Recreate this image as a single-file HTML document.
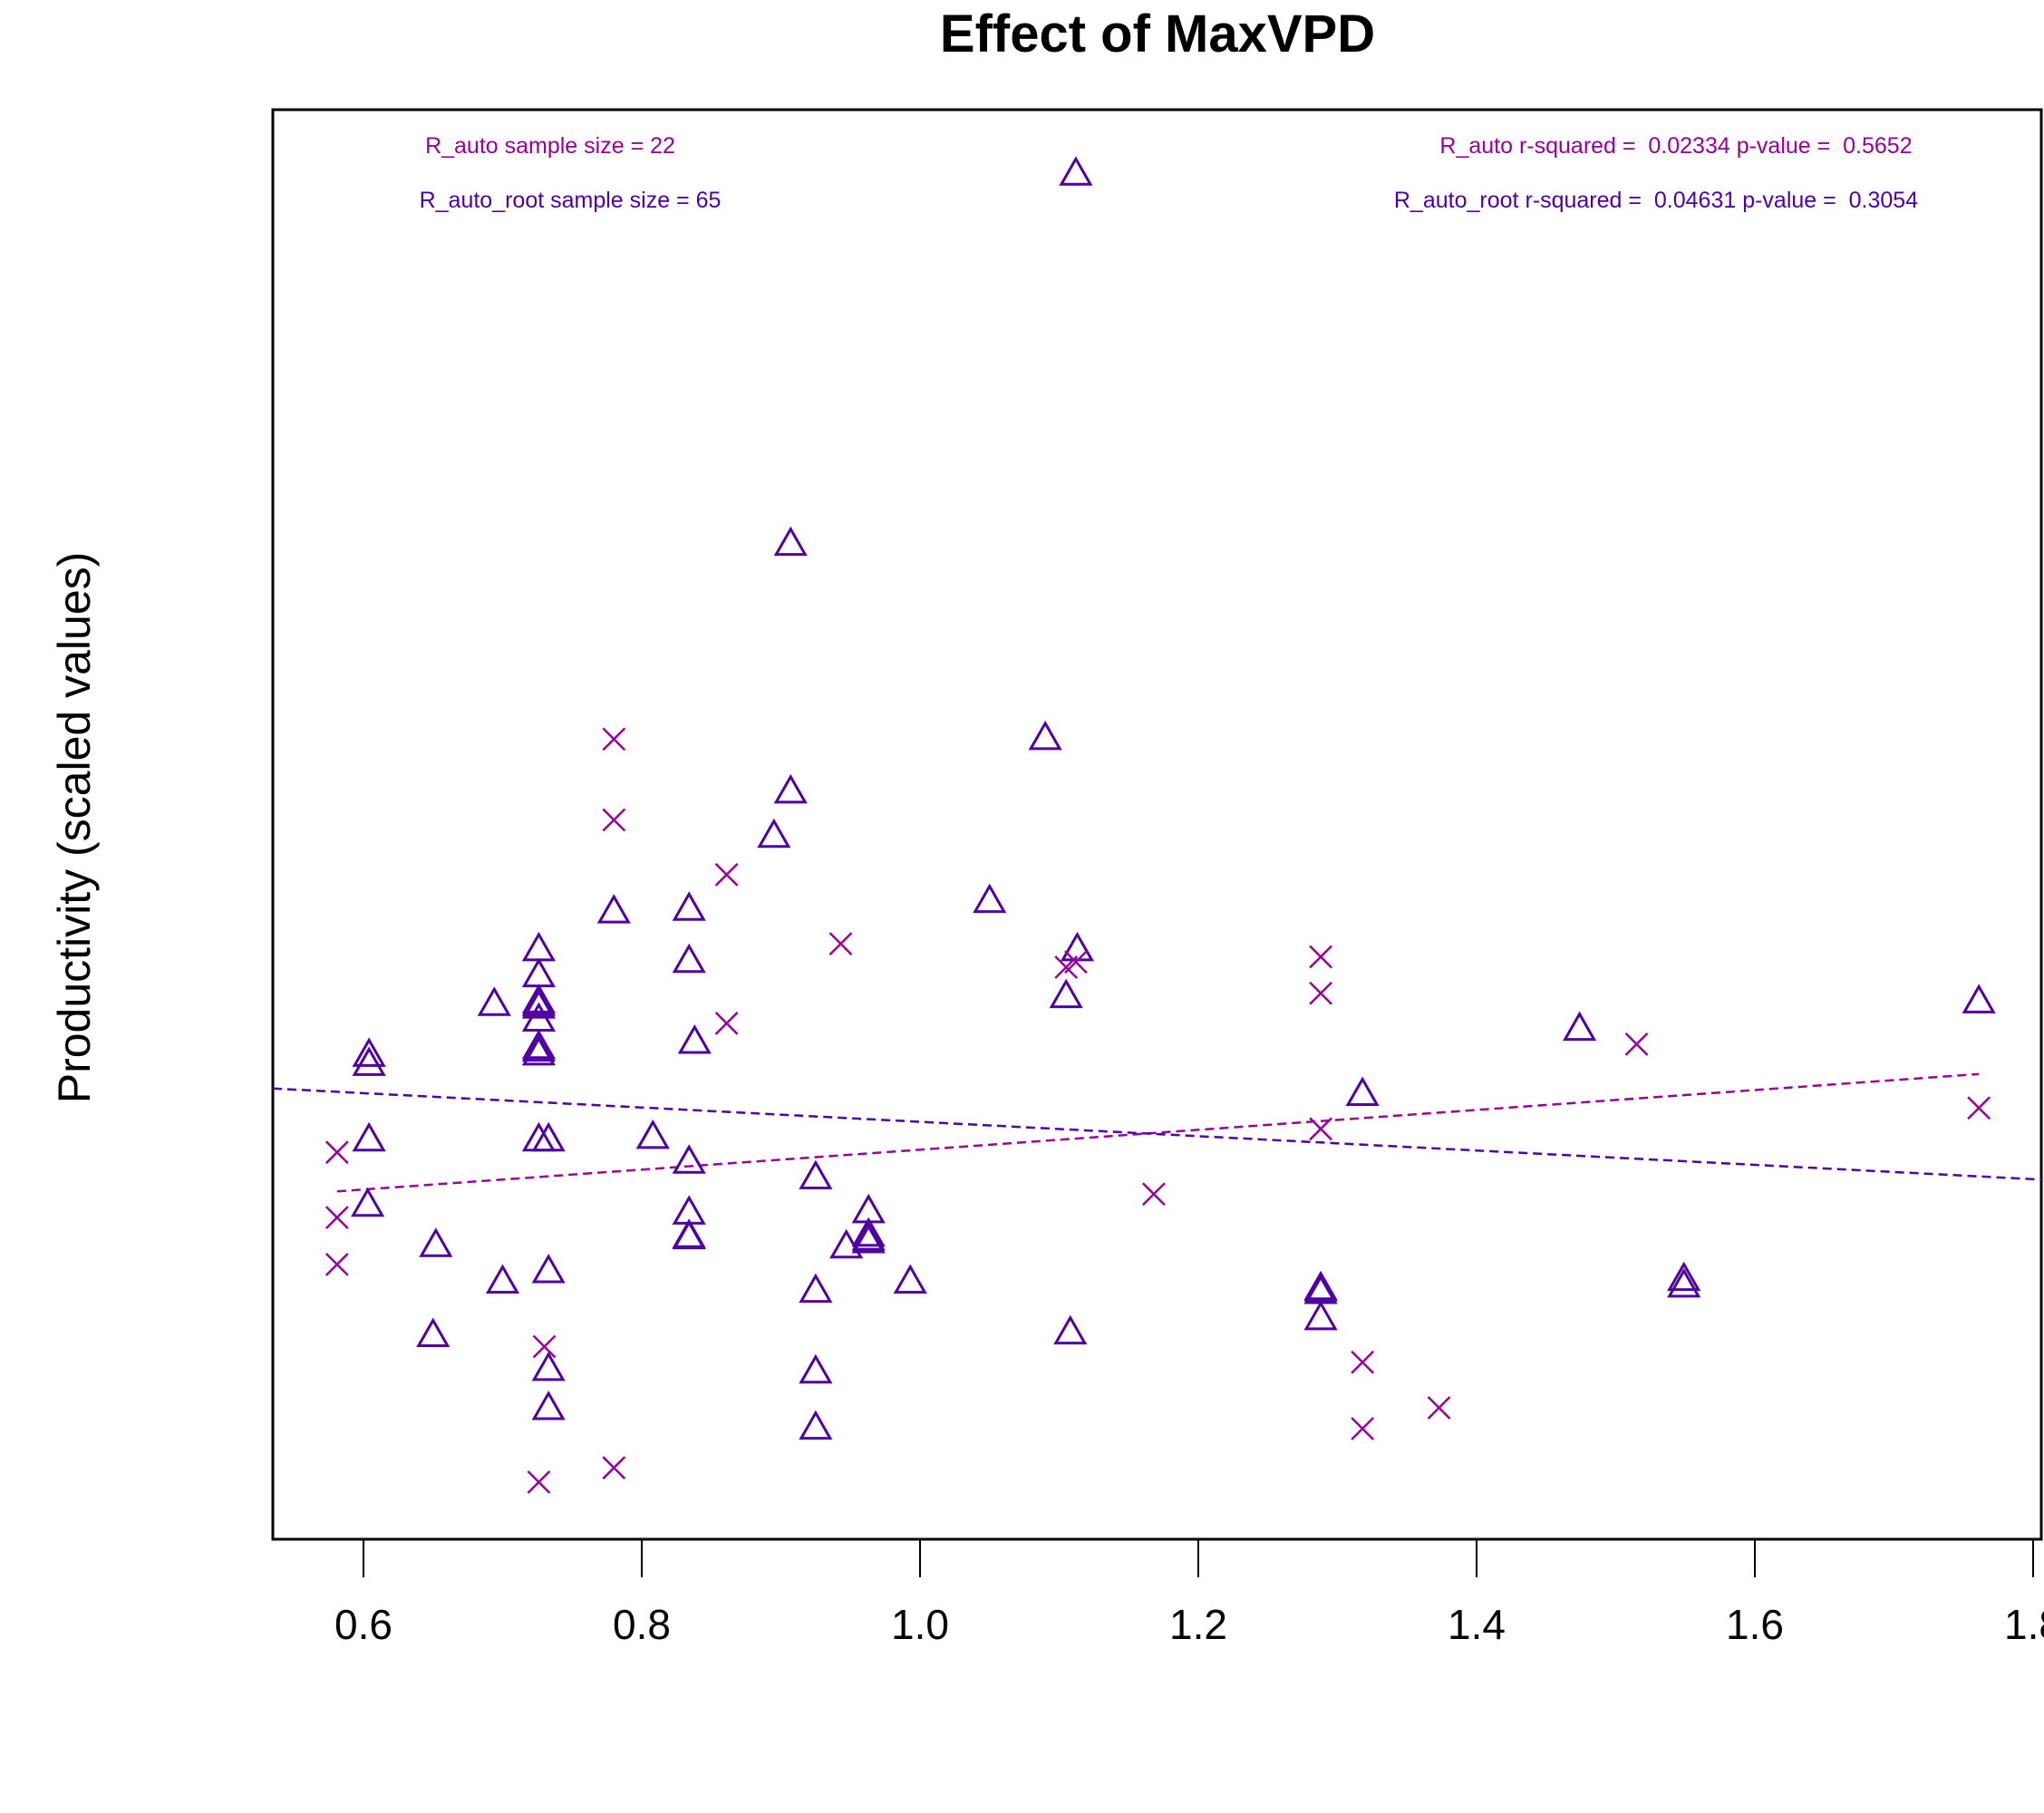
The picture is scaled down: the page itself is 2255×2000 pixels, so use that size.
<!DOCTYPE html>
<html><head><meta charset="utf-8"><style>
html,body{margin:0;padding:0;background:#fff;}
svg{display:block;font-family:"Liberation Sans",Arial,sans-serif;}
</style></head><body>
<svg id="chart" width="2255" height="2000" viewBox="0 0 2255 2000" xmlns="http://www.w3.org/2000/svg">
<rect x="0" y="0" width="2255" height="2000" fill="#fff"/>
<text x="1277" y="57" text-anchor="middle" font-size="58" font-weight="bold">Effect of MaxVPD</text>
<text transform="translate(99,913) rotate(-90)" text-anchor="middle" font-size="50">Productivity (scaled values)</text>
<rect x="301" y="121" width="1951" height="1577" fill="none" stroke="#000" stroke-width="3"/>
<g id="xaxis"></g>
<g id="lines"></g>
<g id="marks"></g>
<text x="607" y="169" text-anchor="middle" font-size="25" fill="#990099">R_auto sample size = 22</text>
<text x="629" y="229" text-anchor="middle" font-size="25" fill="#5000A0">R_auto_root sample size = 65</text>
<text x="1849" y="169" text-anchor="middle" font-size="25" fill="#990099" xml:space="preserve">R_auto r-squared =  0.02334 p-value =  0.5652</text>
<text x="1827" y="229" text-anchor="middle" font-size="25" fill="#5000A0" xml:space="preserve">R_auto_root r-squared =  0.04631 p-value =  0.3054</text>
</svg>
<script>
const xTicks = [0.6, 0.8, 1.0, 1.2, 1.4, 1.6, 1.8];
const xTickLabels = ["0.6", "0.8", "1.0", "1.2", "1.4", "1.6", "1.8"];
const rootX = [1.112,0.907,1.090,0.907,0.895,0.780,0.834,1.050,0.834,0.726,0.726,1.113,1.105,0.694,0.726,0.726,0.726,0.726,0.726,0.604,0.604,0.838,1.474,1.761,1.318,0.604,0.726,0.733,0.808,0.834,0.925,0.603,0.834,0.963,0.834,0.963,0.963,0.947,0.652,0.700,0.733,0.925,0.993,1.288,1.288,1.288,1.549,1.549,0.650,1.108,0.733,0.925,0.733,0.925,0.726,0.726,1.288,0.963,0.834];
const rootY = [7.27,4.43,2.94,2.53,2.19,1.61,1.63,1.69,1.23,1.32,1.12,1.32,0.96,0.90,0.92,0.88,0.78,0.57,0.52,0.51,0.44,0.61,0.71,0.92,0.21,-0.14,-0.14,-0.14,-0.12,-0.31,-0.43,-0.64,-0.70,-0.69,-0.89,-0.87,-0.92,-0.96,-0.95,-1.23,-1.15,-1.30,-1.23,-1.28,-1.31,-1.51,-1.21,-1.26,-1.64,-1.62,-1.90,-1.92,-2.20,-2.35,0.90,0.55,-1.29,-0.90,-0.88];
const autoX = [0.780,0.780,0.861,0.943,1.105,1.112,1.288,1.288,0.861,1.515,1.761,0.581,1.288,1.168,0.581,0.581,0.730,1.318,1.373,1.318,0.780,0.726];
const autoY = [2.93,2.31,1.89,1.36,1.18,1.22,1.26,0.98,0.75,0.59,0.10,-0.24,-0.06,-0.56,-0.74,-1.10,-1.73,-1.85,-2.20,-2.36,-2.66,-2.77];
const autoFit = [-0.983, 0.763];   // intercept, slope
const rootFit = [0.544, -0.550];   // intercept, slope

const NS = "http://www.w3.org/2000/svg";
const PL = 301, PR = 2252, PT = 121, PB = 1698;
function sx(v){ return 1015 + (v - 1) * 1535; }
function sy(v){ return (860 - v * 100) * 1.438; }
function mk(tag, attrs, parent){ const e = document.createElementNS(NS, tag); for (const k in attrs) e.setAttribute(k, attrs[k]); parent.appendChild(e); return e; }

const xa = document.getElementById('xaxis');
const axl = mk('line', {x1: sx(xTicks[0]), x2: sx(xTicks[xTicks.length-1]), y1: PB, y2: PB, stroke: '#000', 'stroke-width': 3}, xa);


xTicks.forEach((t, i) => {
  const tk = mk('line', {x1: sx(t), x2: sx(t), y1: PB, y2: PB + 42, stroke: '#000', 'stroke-width': 2}, xa);
  
  
  const tl = mk('text', {x: sx(t), y: PB + 110, 'text-anchor': 'middle', 'font-size': 46}, xa);
  tl.textContent = xTickLabels[i];
  
  
});

const lg = document.getElementById('lines');
const aMin = Math.min(...autoX), aMax = Math.max(...autoX);
const l1 = mk('line', {x1: sx(aMin), y1: sy(autoFit[0] + autoFit[1]*aMin), x2: sx(aMax), y2: sy(autoFit[0] + autoFit[1]*aMax), stroke: '#990099', 'stroke-width': 2.5, 'stroke-dasharray': '10,6'}, lg);


const xl = 1 + (PL - 1015) / 1535, xr = 1 + (PR - 1015) / 1535;
const l2 = mk('line', {x1: PL, y1: sy(rootFit[0] + rootFit[1]*xl), x2: PR, y2: sy(rootFit[0] + rootFit[1]*xr), stroke: '#5000A0', 'stroke-width': 2.5, 'stroke-dasharray': '10,6'}, lg);



const mg = document.getElementById('marks');
rootX.forEach((x, i) => {
  const cx = sx(x), cy = sy(rootY[i]);
  const p = mk('polygon', {points: `${cx-16},${cy+12} ${cx+16},${cy+12} ${cx},${cy-16}`, fill: 'none', stroke: '#5000A0', 'stroke-width': 3}, mg);
  
  
});
autoX.forEach((x, i) => {
  const cx = sx(x), cy = sy(autoY[i]);
  const p = mk('path', {d: `M${cx-12},${cy-12}L${cx+12},${cy+12}M${cx-12},${cy+12}L${cx+12},${cy-12}`, stroke: '#990099', 'stroke-width': 2.5, fill: 'none'}, mg);
  
  
});
</script>
</body></html>
